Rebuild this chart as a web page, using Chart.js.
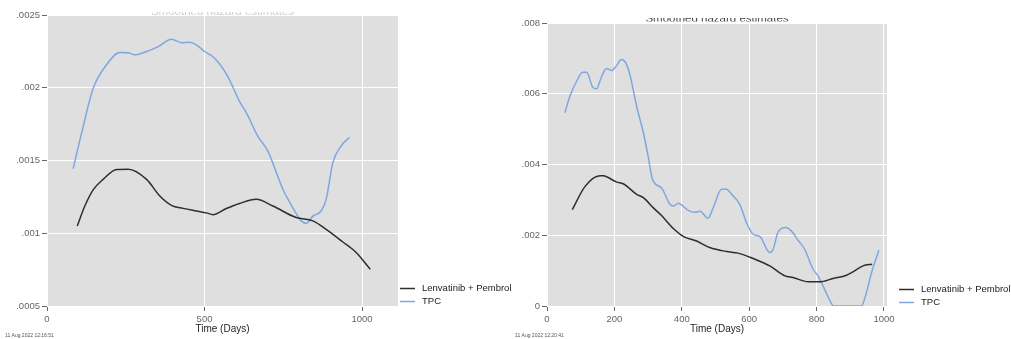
<!DOCTYPE html>
<html>
<head>
<meta charset="utf-8">
<script src="https://cdn.jsdelivr.net/npm/chart.js@4/dist/chart.umd.min.js"></script>
<style>
  html, body { margin: 0; padding: 0; background: #ffffff; }
  body { width: 1011px; height: 339px; position: relative; overflow: hidden; }
  canvas { position: absolute; top: 0; }
  #left { left: 0; }
  #right { left: 505px; }
</style>
</head>
<body>
<canvas id="left" width="530" height="339"></canvas>
<canvas id="right" width="506" height="339"></canvas>
<script>
// Smoothed hazard estimates, two studies

const seriesNames = ['Lenvatinib + Pembrol', 'TPC'];

// Study A
const aLpDays = [96, 120, 147, 178, 221, 258, 316, 358, 395, 432, 474, 506, 527, 569, 611, 664, 717, 791, 844, 886, 939, 981, 1026];
const aLpHaz  = [0.00105, 0.001187, 0.0013, 0.00137, 0.001438, 0.00144, 0.00137, 0.001256, 0.001192, 0.001171, 0.001153, 0.00114, 0.001128, 0.00117, 0.001205, 0.001233, 0.001187, 0.001108, 0.001085, 0.001027, 0.00094, 0.000868, 0.000753];
const aTpcDays = [83, 110, 147, 189, 231, 258, 279, 316, 353, 395, 427, 453, 474, 500, 532, 574, 611, 633, 669, 701, 749, 780, 807, 823, 844, 870, 886, 907, 933, 960];
const aTpcHaz  = [0.001443, 0.00169, 0.001998, 0.002158, 0.002242, 0.00224, 0.002226, 0.002249, 0.002283, 0.002334, 0.00231, 0.002312, 0.002295, 0.002249, 0.002203, 0.002077, 0.001906, 0.001827, 0.001667, 0.001564, 0.001301, 0.001176, 0.001085, 0.001068, 0.001118, 0.001153, 0.001233, 0.001484, 0.001598, 0.00166];
const aXTicks = [0, 500, 1000];
const aYTicks = [0.0005, 0.001, 0.0015, 0.002, 0.0025];

// Study B
const bLpDays = [75, 113, 157, 167, 207, 226, 266, 286, 315, 340, 375, 404, 444, 483, 533, 567, 612, 661, 706, 730, 775, 809, 849, 889, 908, 938, 965];
const bLpHaz  = [0.002725, 0.003382, 0.003684, 0.00368, 0.003503, 0.003456, 0.003157, 0.003063, 0.002781, 0.002556, 0.002189, 0.00197, 0.001836, 0.001653, 0.00154, 0.001495, 0.001343, 0.001134, 0.000852, 0.000806, 0.000683, 0.000683, 0.000777, 0.000871, 0.000965, 0.001134, 0.001182];
const bTpcDays = [53, 68, 88, 106, 118, 135, 147, 162, 177, 192, 205, 221, 234, 246, 266, 286, 300, 313, 340, 365, 375, 389, 419, 439, 454, 478, 493, 518, 533, 548, 572, 594, 612, 632, 661, 671, 686, 709, 725, 745, 765, 790, 805, 824, 844, 850, 933, 943, 963, 985];
const bTpcHaz  = [0.005461, 0.005929, 0.006353, 0.006607, 0.006607, 0.006195, 0.006138, 0.006486, 0.006711, 0.006655, 0.006777, 0.006965, 0.006868, 0.006539, 0.005647, 0.004897, 0.004237, 0.00358, 0.003337, 0.002874, 0.002825, 0.002902, 0.002705, 0.00265, 0.002677, 0.002479, 0.002773, 0.003298, 0.003298, 0.003157, 0.002874, 0.00231, 0.002028, 0.001963, 0.001512, 0.0016, 0.002093, 0.002216, 0.002123, 0.001859, 0.001597, 0.001032, 0.000844, 0.000468, 0.000073, 0, 0, 0.000212, 0.000938, 0.001577];
const bXTicks = [0, 200, 400, 600, 800, 1000];
const bYTicks = [0, 0.002, 0.004, 0.006, 0.008];

const FONT = '"Liberation Sans", Arial, sans-serif';
const LINE_COLORS = ['#2e2e2e', '#7ea7e2'];

function zip(xs, ys) { return xs.map((x, i) => ({ x: x, y: ys[i] })); }

// ".0025" style labels, plain "0" for zero
function hazLabel(v) {
  const s = String(Number(v.toFixed(6)));
  return s === '0' ? '0' : s.replace(/^0\./, '.');
}

// Grey panel, legend at lower right, clipped heading and timestamp
const panelDecor = {
  id: 'panelDecor',
  beforeDraw(chart, args, opts) {
    const a = chart.chartArea, c = chart.ctx;
    c.save();
    c.fillStyle = '#dfdfdf';
    c.fillRect(a.left, a.top, a.right - a.left, a.bottom - a.top);
    c.restore();
  },
  afterDraw(chart, args, opts) {
    const c = chart.ctx, a = chart.chartArea;
    c.save();
    // heading, only its lower edge shows above the panel
    c.beginPath();
    c.rect(0, opts.titleClipTop, chart.width, opts.titleClipBottom - opts.titleClipTop);
    c.clip();
    c.font = '11.5px ' + FONT;
    c.fillStyle = opts.titleColor;
    c.textAlign = 'center';
    c.textBaseline = 'alphabetic';
    c.fillText('Smoothed hazard estimates', (a.left + a.right) / 2, opts.titleBaseline);
    c.restore();

    // legend
    c.save();
    c.font = '9.5px ' + FONT;
    c.textBaseline = 'middle';
    c.textAlign = 'left';
    chart.data.datasets.forEach((ds, i) => {
      const y = opts.legendY + i * 13;
      c.strokeStyle = ds.borderColor;
      c.lineWidth = 1.5;
      c.beginPath();
      c.moveTo(opts.legendX, y);
      c.lineTo(opts.legendX + 15, y);
      c.stroke();
      c.fillStyle = '#1a1a1a';
      c.fillText(ds.label, opts.legendX + 22, y);
    });
    // timestamp
    c.font = '5px ' + FONT;
    c.fillStyle = '#555';
    c.textBaseline = 'alphabetic';
    c.fillText(opts.stamp, opts.stampX, 337);
    c.restore();
  }
};

function makePanel(id, p) {
  return new Chart(document.getElementById(id), {
    type: 'line',
    data: {
      datasets: [
        { label: seriesNames[0], data: zip(p.lpDays, p.lpHaz), borderColor: LINE_COLORS[0] },
        { label: seriesNames[1], data: zip(p.tpcDays, p.tpcHaz), borderColor: LINE_COLORS[1] }
      ]
    },
    options: {
      responsive: false,
      animation: false,
      devicePixelRatio: 1,
      layout: { padding: { top: p.top, right: p.right, left: 0, bottom: 0 } },
      elements: {
        point: { radius: 0 },
        line: { borderWidth: 1.5, cubicInterpolationMode: 'monotone', fill: false }
      },
      plugins: {
        legend: { display: false },
        tooltip: { enabled: false },
        panelDecor: p.decor
      },
      scales: {
        x: {
          type: 'linear',
          min: 0,
          max: p.xMax,
          afterBuildTicks: s => { s.ticks = p.xTicks.map(v => ({ value: v })); },
          afterFit: s => { s.height = 33; },
          border: { display: false },
          grid: { color: '#ffffff', lineWidth: 1, tickColor: '#666', tickLength: 5 },
          ticks: { color: '#666', font: { family: FONT, size: 9.5 }, padding: 3, maxRotation: 0, callback: v => String(v) },
          title: { display: true, text: 'Time (Days)', color: '#1e1e1e', font: { family: FONT, size: 10 }, padding: { top: 0, bottom: 4 } }
        },
        y: {
          type: 'linear',
          min: p.yTicks[0],
          max: p.yTicks[p.yTicks.length - 1],
          afterBuildTicks: s => { s.ticks = p.yTicks.map(v => ({ value: v })); },
          afterFit: s => { s.width = p.left; },
          border: { display: false },
          grid: { color: '#ffffff', lineWidth: 1, tickColor: '#666', tickLength: 5 },
          ticks: { color: '#666', font: { family: FONT, size: 9.5 }, padding: 2, callback: v => hazLabel(v) }
        }
      }
    },
    plugins: [panelDecor]
  });
}

makePanel('left', {
  lpDays: aLpDays, lpHaz: aLpHaz, tpcDays: aTpcDays, tpcHaz: aTpcHaz,
  xTicks: aXTicks, yTicks: aYTicks, xMax: 1114,
  top: 15, right: 132, left: 47,
  decor: { titleColor: '#cfcfcf', titleBaseline: 15, titleClipTop: 12, titleClipBottom: 15,
           legendX: 400, legendY: 288.5, stamp: '11 Aug 2022 12:16:51', stampX: 5 }
});

makePanel('right', {
  lpDays: bLpDays, lpHaz: bLpHaz, tpcDays: bTpcDays, tpcHaz: bTpcHaz,
  xTicks: bXTicks, yTicks: bYTicks, xMax: 1009,
  top: 23, right: 124, left: 42,
  decor: { titleColor: '#444444', titleBaseline: 21.5, titleClipTop: 18, titleClipBottom: 21.5,
           legendX: 394, legendY: 289.5, stamp: '11 Aug 2022 12:20:41', stampX: 10 }
});
</script>
</body>
</html>
